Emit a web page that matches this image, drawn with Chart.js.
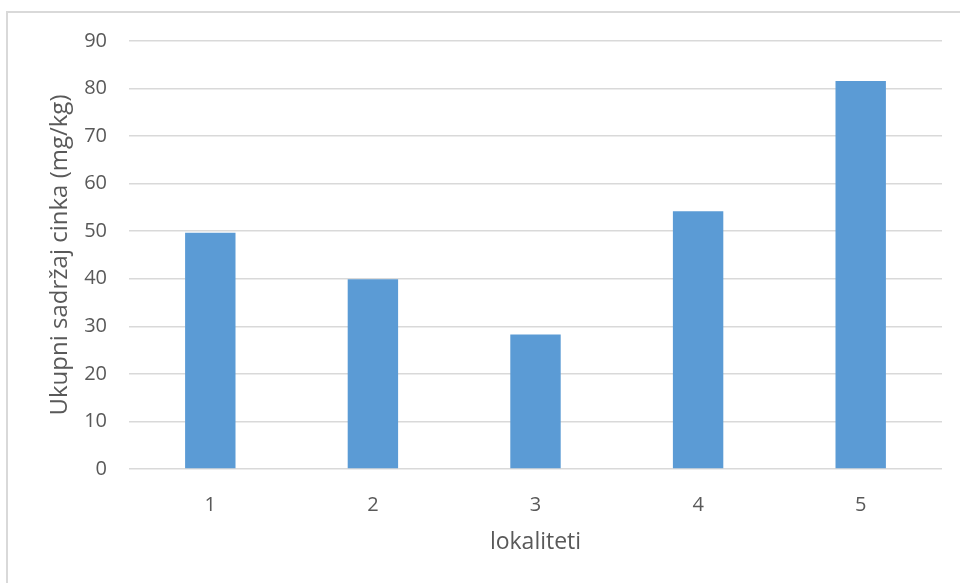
<!DOCTYPE html>
<html>
<head>
<meta charset="utf-8">
<script src="https://cdn.jsdelivr.net/npm/chart.js@4/dist/chart.umd.min.js"></script>
<style>
  html, body { margin: 0; padding: 0; background: #fff; }
  #wrap { position: relative; width: 960px; height: 583px; overflow: hidden; }
  #frame { position: absolute; left: 6px; top: 11px; width: 1000px; height: 700px;
           border: 2px solid #d9d9d9; box-sizing: border-box; }
  canvas { position: absolute; left: 0; top: 0; }
</style>
</head>
<body>
<div id="wrap">
  <div id="frame"></div>
  <canvas id="c" width="960" height="583"></canvas>
</div>
<script>
// Zinc content per locality
const categories = ['1', '2', '3', '4', '5'];
const zincValues = [49.7, 39.9, 28.3, 54.2, 81.6];
const yTicks = [0, 10, 20, 30, 40, 50, 60, 70, 80, 90];

const FONT = '"Open Sans", "Noto Sans", sans-serif';
const TEXT = '#595959';

new Chart(document.getElementById('c'), {
  type: 'bar',
  data: {
    labels: categories,
    datasets: [{
      data: zincValues,
      backgroundColor: '#5b9bd5',
      borderWidth: 0,
      categoryPercentage: 1,
      barPercentage: 0.31
    }]
  },
  options: {
    responsive: false,
    animation: false,
    layout: { padding: { top: 41, right: 18, bottom: 0, left: 0 } },
    plugins: { legend: { display: false }, tooltip: { enabled: false } },
    scales: {
      x: {
        grid: { display: false },
        border: { display: false },
        ticks: { color: TEXT, font: { family: FONT, size: 20 }, padding: 16 },
        title: {
          display: true, text: 'lokaliteti', color: TEXT,
          font: { family: FONT, size: 23 }, padding: { top: 0, bottom: 27 }
        },
        afterFit: s => { s.height = 114; }
      },
      y: {
        min: 0, max: 90,
        afterBuildTicks: s => { s.ticks = yTicks.map(v => ({ value: v })); },
        grid: { color: '#d9d9d9', lineWidth: 1.5, drawTicks: false },
        border: { display: false },
        ticks: { color: TEXT, font: { family: FONT, size: 20 }, padding: 22 },
        title: {
          display: true, text: 'Ukupni sadržaj cinka (mg/kg)', color: TEXT,
          font: { family: FONT, size: 24 }, padding: { top: 46, bottom: 0 }
        },
        afterFit: s => { s.width = 129; }
      }
    }
  }
});
</script>
</body>
</html>
